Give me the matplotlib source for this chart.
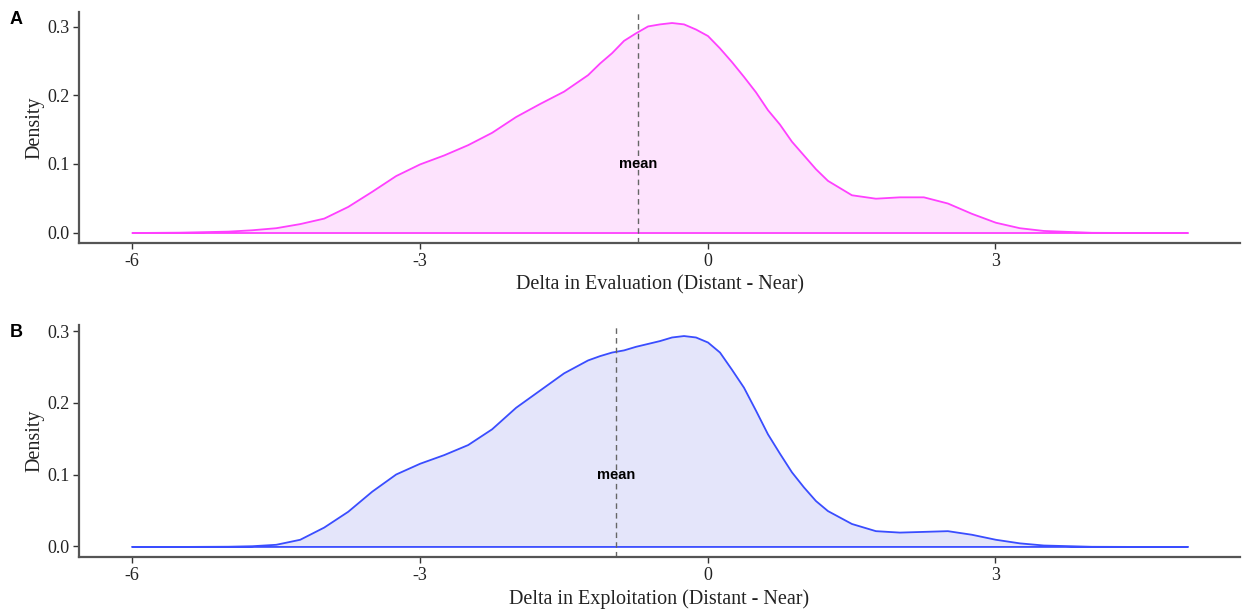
import matplotlib
matplotlib.use("Agg")
import matplotlib.pyplot as plt

# grade de x onde a densidade foi lida (mais fina perto do pico)
x_grid = [-6, -5.5, -5, -4.75, -4.5, -4.25, -4, -3.75, -3.5, -3.25, -3, -2.75,
          -2.5, -2.25, -2, -1.75, -1.5, -1.25, -1.125, -1, -0.875, -0.75,
          -0.625, -0.5, -0.375, -0.25, -0.125, 0, 0.125, 0.25, 0.375, 0.5,
          0.625, 0.75, 0.875, 1, 1.125, 1.25, 1.5, 1.75, 2, 2.25, 2.5, 2.75,
          3, 3.25, 3.5, 4, 4.5, 5]

# painel A - avaliacao
dens_eval = [0.0, 0.0005, 0.002, 0.004, 0.007, 0.013, 0.021, 0.038, 0.060,
             0.083, 0.100, 0.113, 0.128, 0.146, 0.169, 0.188, 0.206, 0.230,
             0.247, 0.262, 0.280, 0.291, 0.301, 0.304, 0.306, 0.304, 0.2965,
             0.287, 0.269, 0.249, 0.2275, 0.205, 0.179, 0.158, 0.133, 0.113,
             0.093, 0.076, 0.055, 0.050, 0.052, 0.052, 0.043, 0.028, 0.015,
             0.007, 0.003, 0.0003, 0.0, 0.0]
mean_eval = -0.72

# painel B - exploracao
dens_expl = [0.0, 0.0, 0.0003, 0.001, 0.003, 0.010, 0.027, 0.049, 0.077,
             0.101, 0.116, 0.128, 0.142, 0.164, 0.194, 0.218, 0.242, 0.260,
             0.266, 0.271, 0.274, 0.279, 0.283, 0.287, 0.292, 0.294, 0.292,
             0.285, 0.271, 0.247, 0.222, 0.190, 0.157, 0.130, 0.104, 0.083,
             0.064, 0.050, 0.032, 0.022, 0.020, 0.021, 0.022, 0.017, 0.010,
             0.005, 0.002, 0.0002, 0.0, 0.0]
mean_expl = -0.95

x_ticks = [-6, -3, 0, 3]
y_ticks = [0.0, 0.1, 0.2, 0.3]

paineis = [
    ("A", dens_eval, mean_eval, "#FF40FF", "#FDE3FD",
     "Delta in Evaluation (Distant - Near)", [0.0636, 0.6055, 0.934, 0.375]),
    ("B", dens_expl, mean_expl, "#3A4DFF", "#E4E5FA",
     "Delta in Exploitation (Distant - Near)", [0.0636, 0.0958, 0.934, 0.3766]),
]

fig = plt.figure(figsize=(12.43, 6.16), dpi=100)
serif = "Liberation Serif"

for letra, dens, media, cor, cor_fill, xlabel, pos in paineis:
    ax = fig.add_axes(pos)
    ax.fill_between(x_grid, dens, 0, facecolor=cor_fill, edgecolor=cor,
                    linewidth=1.3)
    ax.axvline(media, color="#666666", linestyle=(0, (4, 3)), linewidth=1.0)
    ax.text(media, 0.1, "mean", ha="center", va="center", fontsize=10.5,
            fontweight="bold", family="Liberation Sans", color="black")

    top = max(dens) * 1.05
    ax.set_xlim(-6.55, 5.55)
    ax.set_ylim(-max(dens) * 0.05, top)
    ax.set_xticks(x_ticks)
    ax.set_xticklabels([str(v) for v in x_ticks])
    ax.set_yticks(y_ticks)
    ax.set_yticklabels([f"{v:.1f}" for v in y_ticks])
    for lab in ax.get_xticklabels() + ax.get_yticklabels():
        lab.set_family(serif)
        lab.set_fontsize(13)
        lab.set_color("#222222")
    ax.tick_params(length=4, width=1, color="#333333", pad=3)
    ax.set_xlabel(xlabel, family=serif, fontsize=14.5, color="#222222",
                  labelpad=4)
    ax.set_ylabel("Density", family=serif, fontsize=14.5, color="#222222",
                  labelpad=2)
    for s in ["top", "right"]:
        ax.spines[s].set_visible(False)
    for s in ["left", "bottom"]:
        ax.spines[s].set_color("#555555")
        ax.spines[s].set_linewidth(1.6)

    # letra do painel
    fig.text(0.008, pos[1] + pos[3] - 0.012, letra, fontsize=13,
             fontweight="bold", family="Liberation Sans", va="center")

fig.savefig("out.png", dpi=100)
